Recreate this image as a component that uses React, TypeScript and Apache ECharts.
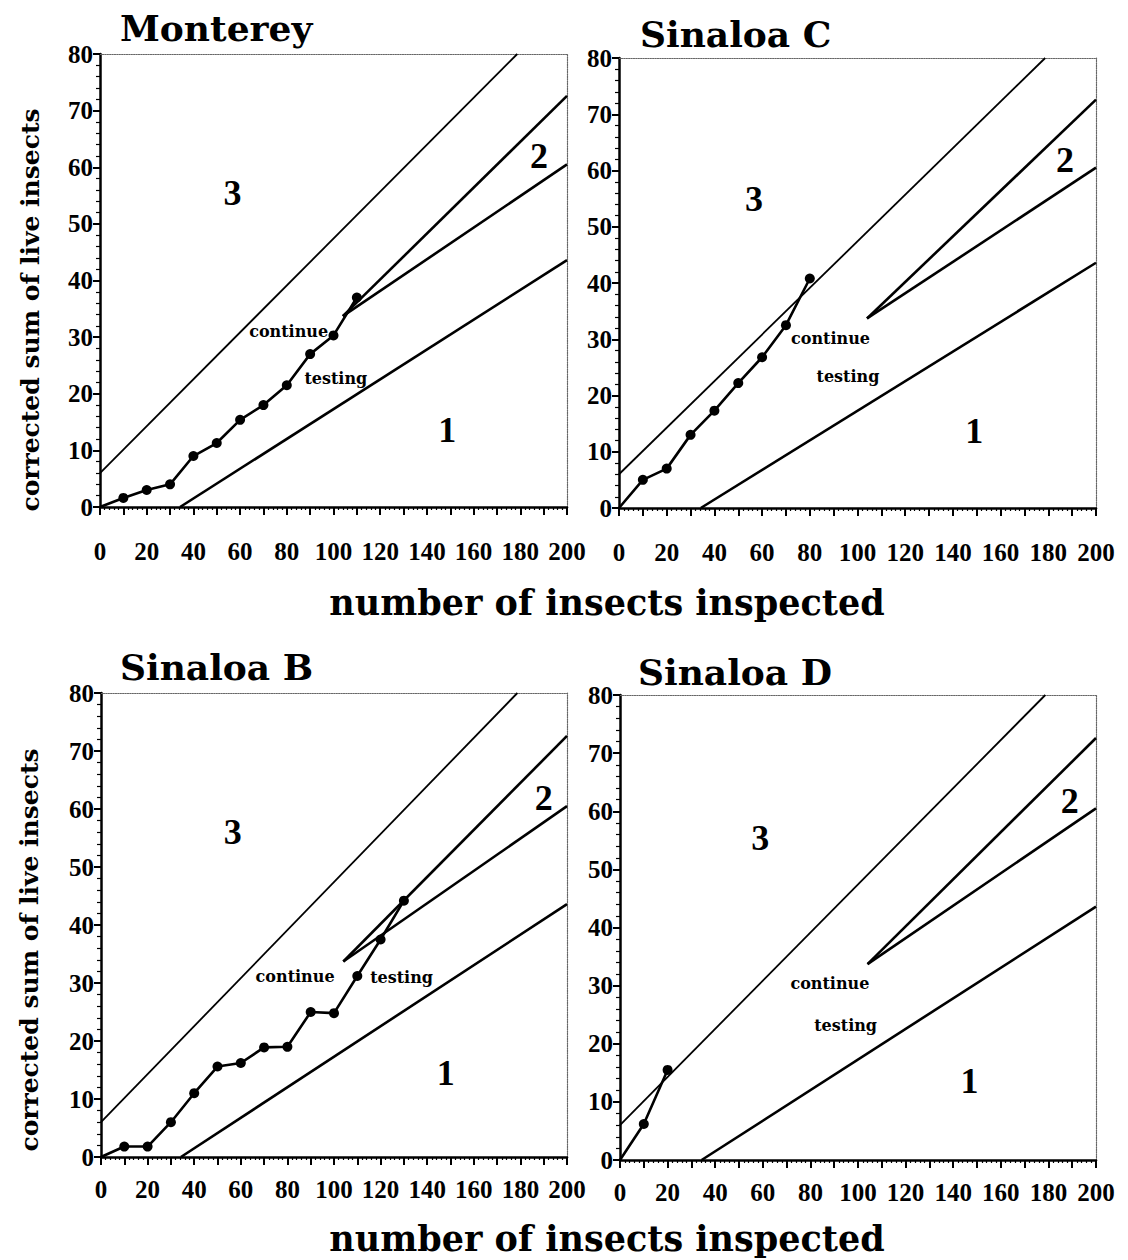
import React, { useEffect, useRef } from "react";
import * as echarts from "echarts";

// ---- data ----
const panelTitles = ["Monterey", "Sinaloa C", "Sinaloa B", "Sinaloa D"];
const xTickLabels = [0, 20, 40, 60, 80, 100, 120, 140, 160, 180, 200];
const yTickLabels = [0, 10, 20, 30, 40, 50, 60, 70, 80];

const montereyX = [0, 10, 20, 30, 40, 50, 60, 70, 80, 90, 100, 110];
const montereyY = [0, 1.6, 3, 4, 9, 11.3, 15.4, 18, 21.5, 27, 30.3, 37];
const sinaloaCX = [0, 10, 20, 30, 40, 50, 60, 70, 80];
const sinaloaCY = [0, 5, 7, 13, 17.3, 22.2, 26.8, 32.5, 40.8];
const sinaloaBX = [0, 10, 20, 30, 40, 50, 60, 70, 80, 90, 100, 110, 120, 130];
const sinaloaBY = [0, 1.8, 1.8, 6, 11, 15.6, 16.2, 18.9, 19, 25, 24.8, 31.2, 37.5, 44.2];
const sinaloaDX = [0, 10, 20];
const sinaloaDY = [0, 6.2, 15.5];

// decision boundaries (same in every panel)
const upperBoundX = [0, 178.7];
const upperBoundY = [6, 80];
const wedgeUpperX = [104, 200];
const wedgeUpperY = [33.7, 72.6];
const wedgeLowerX = [104, 200];
const wedgeLowerY = [33.7, 60.5];
const lowerBoundX = [34.3, 200];
const lowerBoundY = [0, 43.6];

// region labels & notes (data coordinates)
const regionNames = ["3", "2", "1"];
const regionX = [
  [56.7, 188, 148.7],
  [56.6, 187, 149],
  [56.5, 190, 148],
  [58.9, 189, 146.8],
];
const regionY = [
  [55.4, 62, 13.6],
  [55, 61.8, 13.7],
  [56, 61.9, 14.4],
  [55.4, 61.8, 13.6],
];
const noteNames = ["continue", "testing"];
const noteX = [
  [80.8, 101],
  [88.7, 96],
  [83.3, 129],
  [88.2, 94.8],
];
const noteY = [
  [31, 22.7],
  [30.2, 23.3],
  [31.1, 31],
  [30.4, 23.2],
];

const seriesX = [montereyX, sinaloaCX, sinaloaBX, sinaloaDX];
const seriesY = [montereyY, sinaloaCY, sinaloaBY, sinaloaDY];

const SERIF = "DejaVu Serif";
const NUMF = "Liberation Serif";

const zip = (xs: number[], ys: number[]) => xs.map((x, i) => [x, ys[i]]);

export default function App() {
  const ref = useRef<HTMLDivElement>(null);
  useEffect(() => {
    if (!ref.current) return;
    const chart = echarts.init(ref.current, null, { renderer: "svg" });

    const grids = [
      { left: 100, top: 54, width: 467, height: 453 },
      { left: 619, top: 58, width: 477, height: 450 },
      { left: 101, top: 693, width: 466, height: 464 },
      { left: 620, top: 695, width: 476, height: 465 },
    ];
    const xLabelMargin = [32, 32, 20, 20];

    const xAxes: any[] = [];
    const yAxes: any[] = [];
    const series: any[] = [];
    grids.forEach((g, i) => {
      xAxes.push({
        type: "value",
        gridIndex: i,
        min: 0,
        max: 200,
        interval: 10,
        axisLine: { show: true, onZero: false, lineStyle: { color: "#000", width: 2.5 } },
        axisTick: { show: true, length: 8, lineStyle: { color: "#000", width: 2 } },
        minorTick: { show: true, splitNumber: 5, length: 3, lineStyle: { color: "#000", width: 1.2 } },
        splitLine: { show: false },
        axisLabel: {
          margin: xLabelMargin[i],
          color: "#000",
          fontFamily: NUMF,
          fontWeight: "bold",
          fontSize: 25,
          showMinLabel: true,
          showMaxLabel: true,
          formatter: (v: number) => (xTickLabels.includes(v) ? String(v) : ""),
        },
      });
      xAxes.push({
        type: "value",
        gridIndex: i,
        position: "top",
        min: 0,
        max: 200,
        axisLine: { show: true, onZero: false, lineStyle: { color: "#666", width: 1.2, type: "dotted" } },
        axisTick: { show: false },
        axisLabel: { show: false },
        splitLine: { show: false },
      });
      yAxes.push({
        type: "value",
        gridIndex: i,
        min: 0,
        max: 80,
        interval: 10,
        axisLine: { show: true, onZero: false, lineStyle: { color: "#000", width: 2.5 } },
        axisTick: { show: true, length: 7, lineStyle: { color: "#000", width: 2 } },
        minorTick: { show: true, splitNumber: 5, length: 4, lineStyle: { color: "#000", width: 1.2 } },
        splitLine: { show: false },
        axisLabel: {
          margin: 7,
          color: "#000",
          fontFamily: NUMF,
          fontWeight: "bold",
          fontSize: 25,
          formatter: (v: number) => (yTickLabels.includes(v) ? String(v) : ""),
        },
      });
      yAxes.push({
        type: "value",
        gridIndex: i,
        position: "right",
        min: 0,
        max: 80,
        axisLine: { show: true, onZero: false, lineStyle: { color: "#666", width: 1.2, type: "dotted" } },
        axisTick: { show: false },
        axisLabel: { show: false },
        splitLine: { show: false },
      });

      const xi = i * 2;
      const yi = i * 2;
      const lineSeries = (xs: number[], ys: number[], w: number) => ({
        type: "line",
        xAxisIndex: xi,
        yAxisIndex: yi,
        data: zip(xs, ys),
        symbol: "none",
        lineStyle: { color: "#000", width: w },
        silent: true,
        z: 3,
      });
      series.push(lineSeries(upperBoundX, upperBoundY, 1.8));
      series.push(lineSeries(wedgeUpperX, wedgeUpperY, 2.6));
      series.push(lineSeries(wedgeLowerX, wedgeLowerY, 2.6));
      series.push(lineSeries(lowerBoundX, lowerBoundY, 2.6));

      series.push({
        type: "line",
        xAxisIndex: xi,
        yAxisIndex: yi,
        data: zip(seriesX[i], seriesY[i]),
        symbol: "circle",
        symbolSize: (_v: any, p: any) => (p.dataIndex === 0 ? 0 : 10),
        itemStyle: { color: "#000" },
        lineStyle: { color: "#000", width: 2.6 },
        z: 5,
      });

      const lbl = (family: string, size: number) => ({
        show: true,
        position: "inside",
        color: "#000",
        opacity: 1,
        textBorderWidth: 0,
        textBorderColor: "transparent",
        fontFamily: family,
        fontWeight: "bold",
        fontSize: size,
        formatter: (p: any) => p.name,
      });
      const labelData: any[] = [];
      regionNames.forEach((n, k) => {
        labelData.push({
          value: [regionX[i][k], regionY[i][k]],
          name: n,
          label: lbl(NUMF, 36),
        });
      });
      noteNames.forEach((n, k) => {
        labelData.push({
          value: [noteX[i][k], noteY[i][k]],
          name: n,
          label: lbl(SERIF, 16),
        });
      });
      series.push({
        type: "scatter",
        xAxisIndex: xi,
        yAxisIndex: yi,
        symbol: "circle",
        symbolSize: 0,
        data: labelData,
        silent: true,
        z: 6,
        itemStyle: { color: "transparent", opacity: 1 },
        label: lbl(SERIF, 16),
      });
    });

    const titlePos = [
      [120, 28],
      [640, 34],
      [120, 667],
      [638, 672],
    ];
    const graphic: any[] = panelTitles.map((t, i) => ({
      type: "text",
      x: titlePos[i][0],
      y: titlePos[i][1],
      style: {
        text: t,
        fontFamily: SERIF,
        fontWeight: "bold",
        fontSize: 36,
        fill: "#000",
        textAlign: "left",
        textVerticalAlign: "middle",
      },
    }));
    [
      [30, 310],
      [29, 950],
    ].forEach(([x, y]) =>
      graphic.push({
        type: "text",
        x,
        y,
        rotation: Math.PI / 2,
        style: {
          text: "corrected sum of live insects",
          fontFamily: SERIF,
          fontWeight: "bold",
          fontSize: 25,
          fill: "#000",
          textAlign: "center",
          textVerticalAlign: "middle",
        },
      })
    );
    [
      [607, 602],
      [607, 1238],
    ].forEach(([x, y]) =>
      graphic.push({
        type: "text",
        x,
        y,
        style: {
          text: "number of insects inspected",
          fontFamily: SERIF,
          fontWeight: "bold",
          fontSize: 35,
          fill: "#000",
          textAlign: "center",
          textVerticalAlign: "middle",
        },
      })
    );

    chart.setOption({
      animation: false,
      backgroundColor: "#fff",
      grid: grids.map((g) => ({ ...g, containLabel: false })),
      xAxis: xAxes,
      yAxis: yAxes,
      series,
      graphic,
    });
    return () => chart.dispose();
  }, []);
  return (
    <div
      ref={ref}
      style={{ position: "fixed", left: 0, top: 0, width: 1128, height: 1260, background: "#fff" }}
    />
  );
}
